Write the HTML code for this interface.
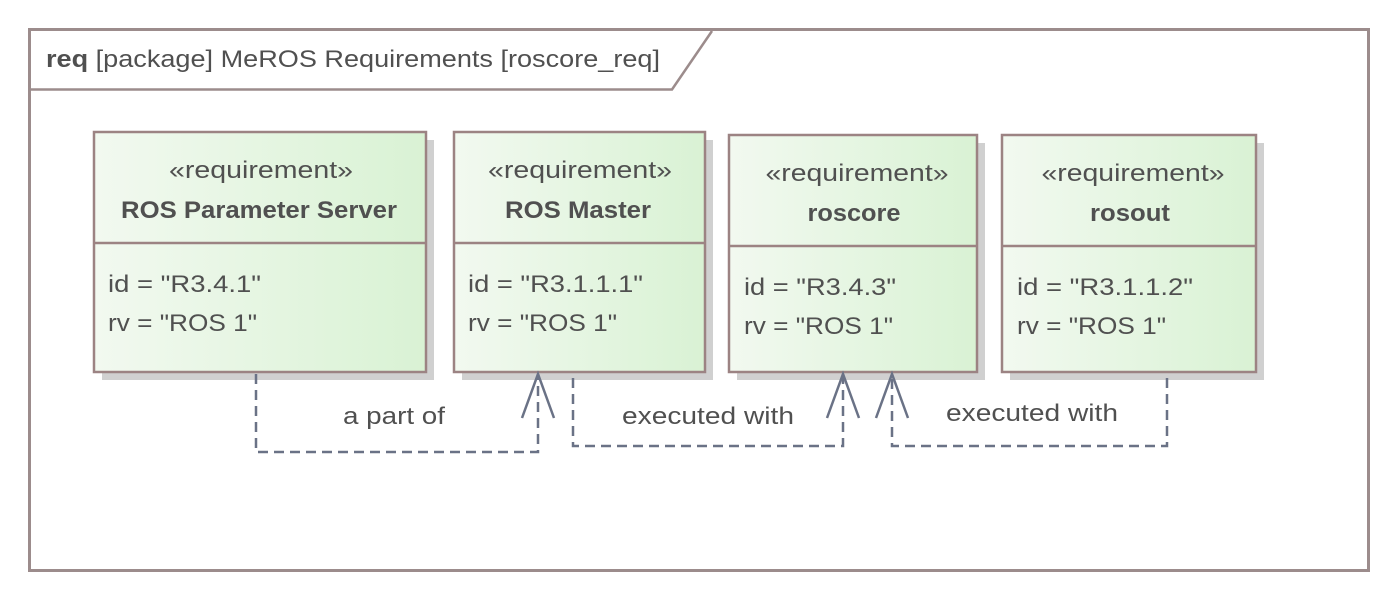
<!DOCTYPE html>
<html><head><meta charset="utf-8">
<style>
html,body{margin:0;padding:0;background:#fff;}
svg{display:block;}
text{font-family:"Liberation Sans",sans-serif;fill:#505050;}
</style></head>
<body>
<svg width="1398" height="600" viewBox="0 0 1398 600" xmlns="http://www.w3.org/2000/svg">
<defs>
<linearGradient id="g" x1="0" y1="0" x2="1" y2="0">
<stop offset="0" stop-color="#f2f9f0"/><stop offset="1" stop-color="#d9f2d4"/>
</linearGradient>
</defs>
<rect x="29.5" y="29.5" width="1339" height="541" fill="#fff" stroke="#9c8c8c" stroke-width="3"/>
<path d="M31 89.5 H672 L712 31" fill="none" stroke="#9c8c8c" stroke-width="2.5"/>
<text x="46" y="67" font-size="24" textLength="614" lengthAdjust="spacingAndGlyphs"><tspan font-weight="bold">req</tspan> [package] MeROS Requirements [roscore_req]</text>

<rect x="102" y="140" width="332" height="240" fill="#d0d0d0"/>
<rect x="462" y="140" width="251" height="240" fill="#d0d0d0"/>
<rect x="737" y="143" width="248" height="237" fill="#d0d0d0"/>
<rect x="1010" y="143" width="254" height="237" fill="#d0d0d0"/>

<g stroke="#9c8383" stroke-width="2.5" fill="url(#g)">
<rect x="94" y="132" width="332" height="240"/>
<line x1="94" y1="243" x2="426" y2="243"/>
<rect x="454" y="132" width="251" height="240"/>
<line x1="454" y1="243" x2="705" y2="243"/>
<rect x="729" y="135" width="248" height="237"/>
<line x1="729" y1="246" x2="977" y2="246"/>
<rect x="1002" y="135" width="254" height="237"/>
<line x1="1002" y1="246" x2="1256" y2="246"/>
</g>

<g font-size="24" text-anchor="middle" lengthAdjust="spacingAndGlyphs">
<text x="261" y="178" textLength="184" lengthAdjust="spacingAndGlyphs">«requirement»</text>
<text x="259" y="218" font-weight="bold" textLength="276" lengthAdjust="spacingAndGlyphs">ROS Parameter Server</text>
<text x="580" y="178" textLength="184" lengthAdjust="spacingAndGlyphs">«requirement»</text>
<text x="578" y="218" font-weight="bold" textLength="146" lengthAdjust="spacingAndGlyphs">ROS Master</text>
<text x="857" y="181" textLength="183" lengthAdjust="spacingAndGlyphs">«requirement»</text>
<text x="854" y="221" font-weight="bold" textLength="93" lengthAdjust="spacingAndGlyphs">roscore</text>
<text x="1133" y="181" textLength="183" lengthAdjust="spacingAndGlyphs">«requirement»</text>
<text x="1130" y="221" font-weight="bold" textLength="80" lengthAdjust="spacingAndGlyphs">rosout</text>
</g>
<g font-size="24">
<text x="108" y="292" textLength="153" lengthAdjust="spacingAndGlyphs">id = "R3.4.1"</text>
<text x="108" y="331" textLength="149" lengthAdjust="spacingAndGlyphs">rv = "ROS 1"</text>
<text x="468" y="292" textLength="175" lengthAdjust="spacingAndGlyphs">id = "R3.1.1.1"</text>
<text x="468" y="331" textLength="149" lengthAdjust="spacingAndGlyphs">rv = "ROS 1"</text>
<text x="744" y="295" textLength="152" lengthAdjust="spacingAndGlyphs">id = "R3.4.3"</text>
<text x="744" y="334" textLength="149" lengthAdjust="spacingAndGlyphs">rv = "ROS 1"</text>
<text x="1017" y="295" textLength="176" lengthAdjust="spacingAndGlyphs">id = "R3.1.1.2"</text>
<text x="1017" y="334" textLength="149" lengthAdjust="spacingAndGlyphs">rv = "ROS 1"</text>
</g>

<g fill="none" stroke="#6a7286" stroke-width="2.5">
<path d="M256 374 V452 H538 V374" stroke-dasharray="10 6"/>
<path d="M573 378 V446 H843 V374" stroke-dasharray="10 6"/>
<path d="M1167 378 V446 H892 V374" stroke-dasharray="10 6"/>
<path d="M522 418 L538 374 L554 418"/>
<path d="M827 418 L843 374 L859 418"/>
<path d="M876 418 L892 374 L908 418"/>
</g>

<g font-size="24" text-anchor="middle">
<text x="394" y="424" textLength="102" lengthAdjust="spacingAndGlyphs">a part of</text>
<text x="708" y="424" textLength="172" lengthAdjust="spacingAndGlyphs">executed with</text>
<text x="1032" y="421" textLength="172" lengthAdjust="spacingAndGlyphs">executed with</text>
</g>
</svg>
</body></html>
